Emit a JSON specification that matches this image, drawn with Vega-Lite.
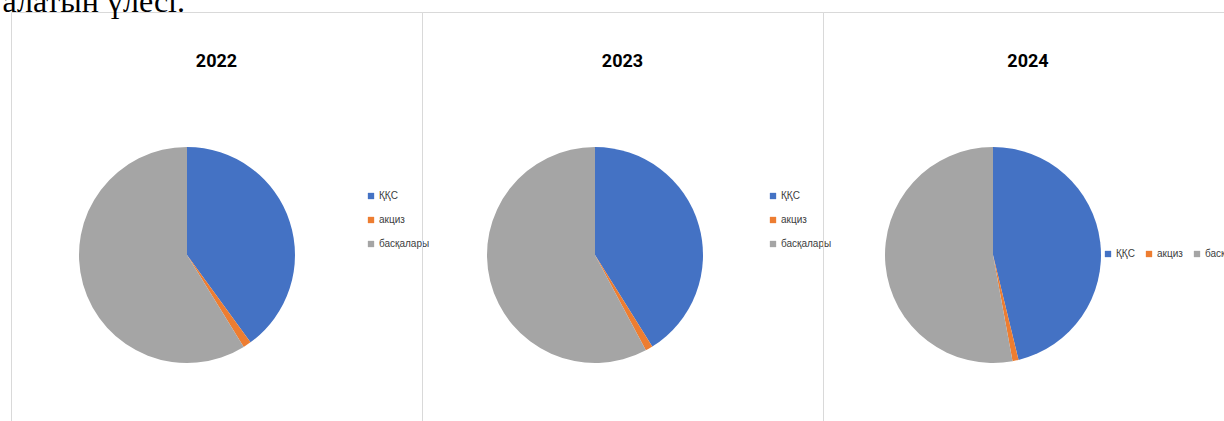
{
  "$schema": "https://vega.github.io/schema/vega-lite/v6.json",
  "background": "white",
  "padding": {"left": 2, "top": -15, "right": 0, "bottom": 0},
  "bounds": "flush",
  "title": {
    "text": "алатын үлесі.",
    "anchor": "start",
    "font": "Liberation Serif",
    "fontSize": 32,
    "fontWeight": "normal",
    "color": "black",
    "baseline": "alphabetic",
    "dx": -8,
    "offset": -32
  },
  "datasets": {
    "shares": [
      {"year": 2022, "tax": "ҚҚС", "share": 40.0, "ord": 1},
      {"year": 2022, "tax": "акциз", "share": 1.2, "ord": 2},
      {"year": 2022, "tax": "басқалары", "share": 58.8, "ord": 3},
      {"year": 2023, "tax": "ҚҚС", "share": 41.1, "ord": 1},
      {"year": 2023, "tax": "акциз", "share": 1.1, "ord": 2},
      {"year": 2023, "tax": "басқалары", "share": 57.8, "ord": 3},
      {"year": 2024, "tax": "ҚҚС", "share": 46.2, "ord": 1},
      {"year": 2024, "tax": "акциз", "share": 0.9, "ord": 2},
      {"year": 2024, "tax": "басқалары", "share": 52.9, "ord": 3}
    ]
  },
  "spacing": 0,
  "hconcat": [
    {
      "width": 411,
      "height": 420,
      "view": {"stroke": "#d9d9d9", "strokeWidth": 1},
      "title": {"text": "2022", "offset": -59},
      "data": {"name": "shares"},
      "transform": [{"filter": "datum.year == 2022"}],
      "mark": {"type": "arc", "radius": 108, "x": 176, "y": 243},
      "encoding": {
        "theta": {"field": "share", "type": "quantitative", "stack": true},
        "order": {"field": "ord"},
        "color": {
          "field": "tax",
          "type": "nominal",
          "scale": {"domain": ["ҚҚС", "акциз", "басқалары"], "range": ["#4472C4", "#ED7D31", "#A5A5A5"]},
          "legend": {"orient": "none", "legendX": 355, "legendY": 179, "direction": "vertical"}
        }
      }
    },
    {
      "width": 401,
      "height": 420,
      "view": {"stroke": "#d9d9d9", "strokeWidth": 1},
      "title": {"text": "2023", "offset": -59},
      "data": {"name": "shares"},
      "transform": [{"filter": "datum.year == 2023"}],
      "mark": {"type": "arc", "radius": 108, "x": 173, "y": 243},
      "encoding": {
        "theta": {"field": "share", "type": "quantitative", "stack": true},
        "order": {"field": "ord"},
        "color": {
          "field": "tax",
          "type": "nominal",
          "scale": {"domain": ["ҚҚС", "акциз", "басқалары"], "range": ["#4472C4", "#ED7D31", "#A5A5A5"]},
          "legend": {"orient": "none", "legendX": 346, "legendY": 179, "direction": "vertical"}
        }
      }
    },
    {
      "width": 410,
      "height": 420,
      "view": {"stroke": "#d9d9d9", "strokeWidth": 1},
      "title": {"text": "2024", "offset": -59},
      "data": {"name": "shares"},
      "transform": [{"filter": "datum.year == 2024"}],
      "mark": {"type": "arc", "radius": 108, "x": 170, "y": 243},
      "encoding": {
        "theta": {"field": "share", "type": "quantitative", "stack": true},
        "order": {"field": "ord"},
        "color": {
          "field": "tax",
          "type": "nominal",
          "scale": {"domain": ["ҚҚС", "акциз", "басқалары"], "range": ["#4472C4", "#ED7D31", "#A5A5A5"]},
          "legend": {"orient": "none", "legendX": 280, "legendY": 237, "direction": "horizontal", "columnPadding": 9}
        }
      }
    }
  ],
  "resolve": {"legend": {"color": "independent"}, "scale": {"color": "independent"}},
  "config": {
    "view": {"stroke": "#d9d9d9", "strokeWidth": 1},
    "title": {
      "font": "Roboto",
      "fontSize": 18,
      "fontWeight": "bold",
      "color": "#000000",
      "anchor": "middle",
      "baseline": "alphabetic"
    },
    "legend": {
      "title": null,
      "symbolType": "square",
      "symbolSize": 40,
      "symbolStrokeWidth": 0,
      "labelFont": "Liberation Sans",
      "labelFontSize": 10,
      "labelColor": "#404040",
      "labelOffset": 3,
      "rowPadding": 14
    }
  }
}
